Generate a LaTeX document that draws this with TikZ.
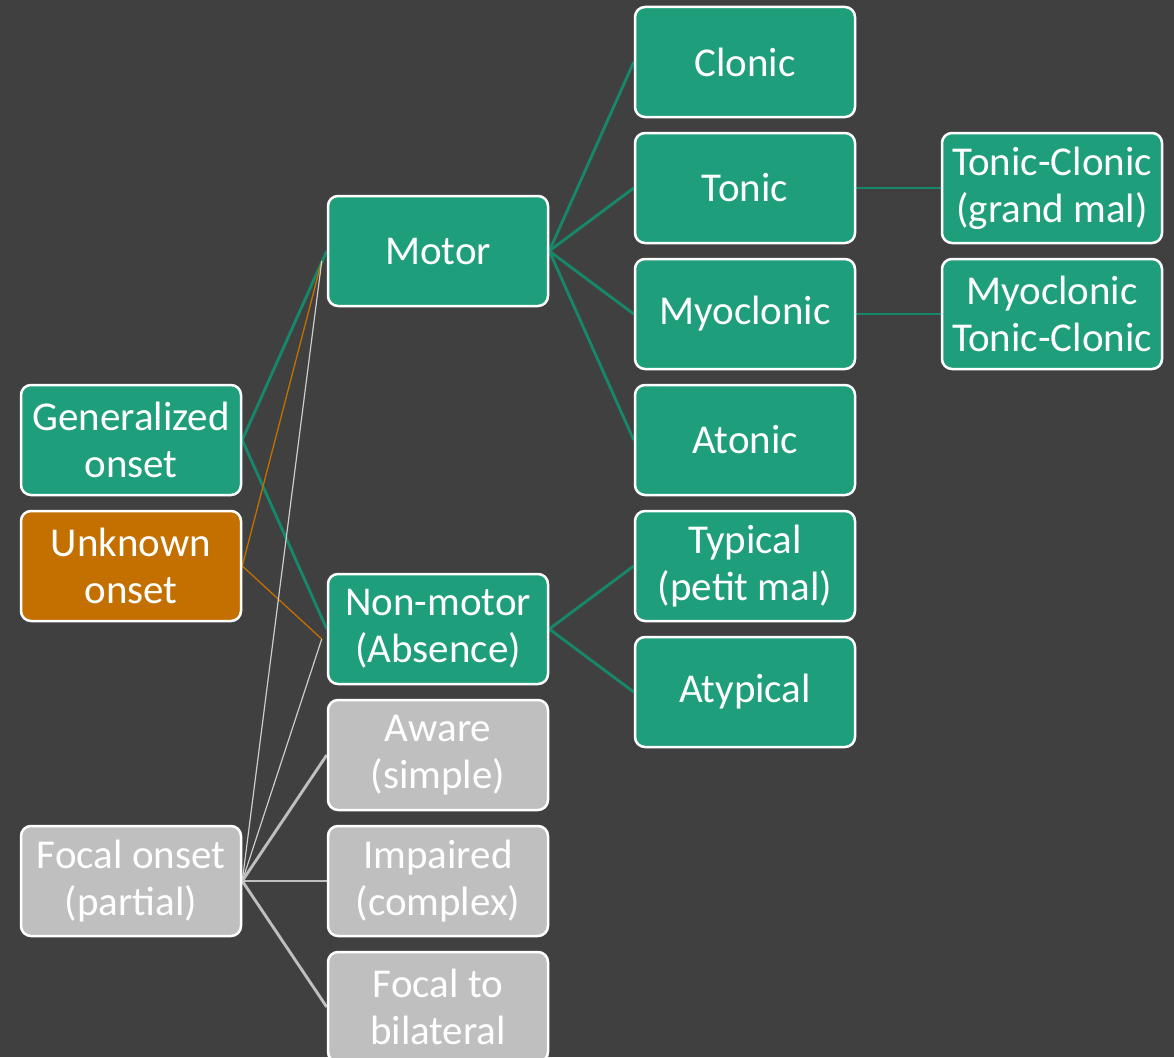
\documentclass[tikz,border=0pt]{standalone}
\usepackage{fontspec}
\setmainfont{Carlito}
\usetikzlibrary{calc}
\pgfdeclarelayer{bg}
\pgfdeclarelayer{lines}
\pgfsetlayers{bg,lines,main}
\definecolor{bgc}{HTML}{404040}
\definecolor{gbox}{HTML}{1F9E7B}
\definecolor{gline}{HTML}{17876A}
\definecolor{obox}{HTML}{C47000}
\definecolor{oline}{HTML}{C47000}
\definecolor{ybox}{HTML}{BFBFBF}
\definecolor{yline}{HTML}{BFBFBF}
\begin{document}
\begin{tikzpicture}[x=1pt,y=-1pt,
  box/.style={draw=white,line width=2.5pt,rounded corners=10pt,minimum width=220pt,minimum height=110pt,
    inner sep=0pt,align=center,text=white,font=\fontsize{41}{47}\selectfont},
  gbx/.style={box,fill=gbox},
  obx/.style={box,fill=obox},
  ybx/.style={box,fill=ybox},
  gl/.style={draw=gline,line width=2.9pt},
  ol/.style={draw=oline,line width=1.3pt},
  yl/.style={draw=yline,line width=2.9pt},
  ythin/.style={draw=yline!80!white,line width=1.2pt}]
\begin{pgfonlayer}{bg}
\fill[bgc] (0,0) rectangle (1174,1057);
\end{pgfonlayer}
\useasboundingbox (0,0) rectangle (1174,1057);
\clip (0,0) rectangle (1174,1057);
\node[gbx] (gen) at (131,440) {Generalized\\onset};
\node[obx] (unk) at (131,566) {Unknown\\onset};
\node[ybx] (foc) at (131,881) {Focal onset\\(partial)};
\node[gbx] (motor) at (438,251) {Motor};
\node[gbx] (nonmotor) at (438,629) {Non-motor\\(Absence)};
\node[ybx] (aware) at (438,755) {Aware\\(simple)};
\node[ybx] (impaired) at (438,881) {Impaired\\(complex)};
\node[ybx] (f2b) at (438,1007) {Focal to\\bilateral};
\node[gbx] (clonic) at (745,62) {Clonic};
\node[gbx] (tonic) at (745,188) {Tonic};
\node[gbx] (myo) at (745,314) {Myoclonic};
\node[gbx] (atonic) at (745,440) {Atonic};
\node[gbx] (typical) at (745,566) {Typical\\(petit mal)};
\node[gbx] (atypical) at (745,692) {Atypical};
\node[gbx] (tcgm) at (1052,188) {Tonic-Clonic\\(grand mal)};
\node[gbx] (mtc) at (1052,314) {Myoclonic\\Tonic-Clonic};
\begin{pgfonlayer}{lines}
\draw[gl] (gen.east) -- (motor.west);
\draw[gl] (gen.east) -- (nonmotor.west);
\coordinate (mh) at ($(motor.west)+(-5,10)$);
\coordinate (nh) at ($(nonmotor.west)+(-5,10)$);
\draw[ol] (unk.east) -- (mh);
\draw[ol] (unk.east) -- (nh);
\draw[ythin] (foc.east) -- (mh);
\draw[ythin] (foc.east) -- (nh);
\draw[yl] (foc.east) -- (aware.west);
\draw[yl] (foc.east) -- (impaired.west);
\draw[yl] (foc.east) -- (f2b.west);
\foreach \t in {clonic,tonic,myo,atonic}{\draw[gl] (motor.east) -- (\t.west);}
\foreach \t in {typical,atypical}{\draw[gl] (nonmotor.east) -- (\t.west);}
\draw[gl] (tonic.east) -- (tcgm.west);
\draw[gl] (myo.east) -- (mtc.west);
\end{pgfonlayer}
\end{tikzpicture}
\end{document}
